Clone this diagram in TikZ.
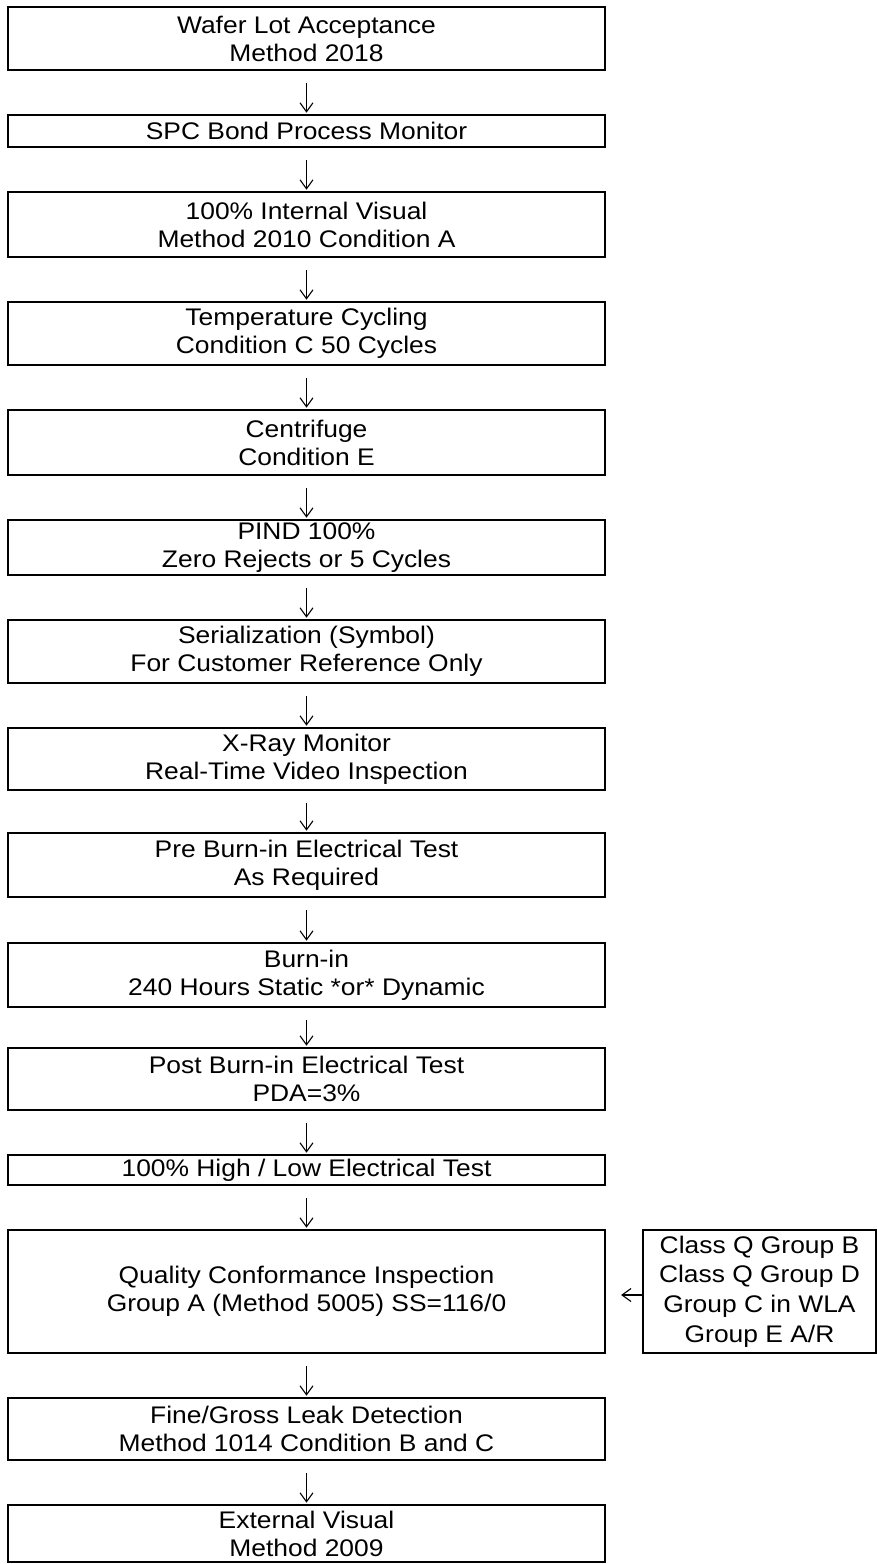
\documentclass[tikz,border=0pt]{standalone}
\usepackage{fontspec}
\setmainfont{Liberation Sans}[FakeStretch=1.1]
\usetikzlibrary{arrows.meta}
\begin{document}
\begin{tikzpicture}[x=0.5pt,y=-0.5pt,
  box/.style={draw, line width=1.1pt, minimum width=298.5pt, inner sep=0pt, align=center, font=\fontsize{12}{14}\selectfont},
  sidebox/.style={draw, line width=1.1pt, minimum width=116.5pt, inner sep=0pt, align=center, font=\fontsize{12}{14.85}\selectfont},
  arr/.style={line width=0.55pt, -{Straight Barb[length=4.5pt,width=6.5pt,line width=0.55pt]}, shorten <=6pt, shorten >=0.6pt}]
\useasboundingbox (0,0) rectangle (877,1564);
\node[box, minimum height=31.5pt] (b1) at (306.5,38.5) {Wafer Lot Acceptance\\Method 2018};
\node[box, minimum height=16pt] (b2) at (306.5,131) {SPC Bond Process Monitor};
\node[box, minimum height=32.5pt] (b3) at (306.5,224.5) {100\% Internal Visual\\Method 2010 Condition A};
\node[box, minimum height=31.5pt] (b4) at (306.5,333.5) {Temperature Cycling\\Condition C 50 Cycles};
\node[box, minimum height=32.5pt] (b5) at (306.5,442.5) {Centrifuge\\Condition E};
\node[box, minimum height=27.5pt] (b6) at (306.5,547.5) {PIND 100\%\\Zero Rejects or 5 Cycles};
\node[box, minimum height=31.5pt] (b7) at (306.5,651.5) {Serialization (Symbol)\\For Customer Reference Only};
\node[box, minimum height=31pt] (b8) at (306.5,759) {X-Ray Monitor\\Real-Time Video Inspection};
\node[box, minimum height=32pt] (b9) at (306.5,865) {Pre Burn-in Electrical Test\\As Required};
\node[box, minimum height=32pt] (b10) at (306.5,975) {Burn-in\\240 Hours Static *or* Dynamic};
\node[box, minimum height=31pt] (b11) at (306.5,1079) {Post Burn-in Electrical Test\\PDA=3\%};
\node[box, minimum height=15pt] (b12) at (306.5,1170) {100\% High / Low Electrical Test};
\node[box, minimum height=61.5pt] (b13) at (306.5,1291.5) {Quality Conformance Inspection\\Group A (Method 5005) SS=116/0};
\node[box, minimum height=31pt] (b14) at (306.5,1429) {Fine/Gross Leak Detection\\Method 1014 Condition B and C};
\node[box, minimum height=28.5pt] (b15) at (306.5,1533.5) {External Visual\\Method 2009};
\node[sidebox, minimum height=61.5pt] (s) at (759.5,1291.5) {Class Q Group B\\Class Q Group D\\Group C in WLA\\Group E A/R};
\foreach \a/\b in {b1/b2,b2/b3,b3/b4,b4/b5,b5/b6,b6/b7,b7/b8,b8/b9,b9/b10,b10/b11,b11/b12,b12/b13,b13/b14,b14/b15}
  \draw[arr] (\a.south) -- (\b.north);
\draw[arr, shorten <=0pt, shorten >=7.5pt] ([yshift=-1.75pt]s.west) -- ([yshift=-1.75pt]b13.east);
\end{tikzpicture}
\end{document}
